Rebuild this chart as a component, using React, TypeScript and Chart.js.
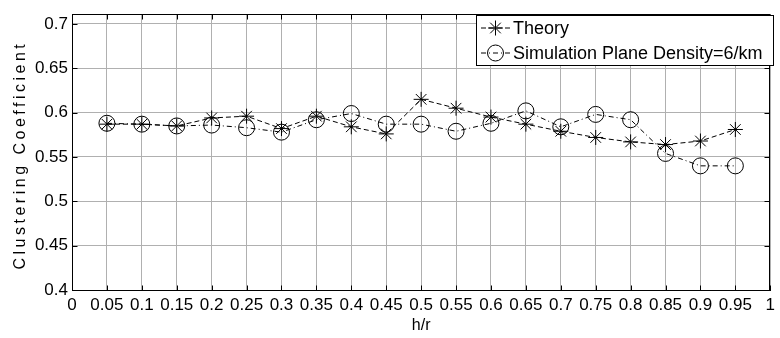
import React, { useEffect, useRef } from 'react';
import { Chart, registerables } from 'chart.js';

Chart.register(...registerables);

// ---- data ----
const hr = [0.05, 0.1, 0.15, 0.2, 0.25, 0.3, 0.35, 0.4, 0.45, 0.5, 0.55, 0.6, 0.65, 0.7, 0.75, 0.8, 0.85, 0.9, 0.95];
const theory = [0.587, 0.587, 0.585, 0.594, 0.596, 0.582, 0.596, 0.584, 0.576, 0.615, 0.605, 0.595, 0.587, 0.579, 0.572, 0.567, 0.564, 0.568, 0.581];
const simulation = [0.588, 0.587, 0.585, 0.586, 0.583, 0.578, 0.592, 0.599, 0.587, 0.587, 0.579, 0.588, 0.602, 0.584, 0.598, 0.592, 0.554, 0.54, 0.54];
const seriesNames = ['Theory', 'Simulation Plane Density=6/km'];
const xTicks = [0, 0.05, 0.1, 0.15, 0.2, 0.25, 0.3, 0.35, 0.4, 0.45, 0.5, 0.55, 0.6, 0.65, 0.7, 0.75, 0.8, 0.85, 0.9, 0.95, 1];
const xTickLabels = ['0', '0.05', '0.1', '0.15', '0.2', '0.25', '0.3', '0.35', '0.4', '0.45', '0.5', '0.55', '0.6', '0.65', '0.7', '0.75', '0.8', '0.85', '0.9', '0.95', '1'];
const yTicks = [0.4, 0.45, 0.5, 0.55, 0.6, 0.65, 0.7];
const yTickLabels = ['0.4', '0.45', '0.5', '0.55', '0.6', '0.65', '0.7'];
const xTitle = 'h/r';
const yTitle = 'Clustering Coefficient';
const yMin = 0.4;
const yMax = 0.711;

const FONT = "'Liberation Sans', Arial, sans-serif";
const theoryDash = [5, 3];
const simDash = [5, 3, 1, 3];

function drawStar(ctx: CanvasRenderingContext2D, x: number, y: number, r: number) {
  const d = r * Math.SQRT1_2;
  ctx.beginPath();
  ctx.moveTo(x - r, y); ctx.lineTo(x + r, y);
  ctx.moveTo(x, y - r); ctx.lineTo(x, y + r);
  ctx.moveTo(x - d, y - d); ctx.lineTo(x + d, y + d);
  ctx.moveTo(x - d, y + d); ctx.lineTo(x + d, y - d);
  ctx.stroke();
}
function drawCircle(ctx: CanvasRenderingContext2D, x: number, y: number, r: number) {
  ctx.beginPath();
  ctx.arc(x, y, r, 0, Math.PI * 2);
  ctx.stroke();
}

const framePlugin = {
  id: 'frame',
  afterDraw(chart: any) {
    const { ctx, chartArea } = chart;
    const { left, right, top, bottom } = chartArea;
    const x = chart.scales.x;
    const y = chart.scales.y;
    ctx.save();
    ctx.strokeStyle = '#000';
    ctx.lineWidth = 1;
    ctx.setLineDash([]);
    ctx.beginPath();
    const L = Math.round(left) + 0.5, R = Math.round(right) - 0.5, T = Math.round(top) + 0.5, B = Math.round(bottom) + 0.5;
    xTicks.forEach((v) => {
      const px = Math.round(x.getPixelForValue(v)) + 0.5;
      ctx.moveTo(px, B); ctx.lineTo(px, B - 5);
      ctx.moveTo(px, T); ctx.lineTo(px, T + 5);
    });
    yTicks.forEach((v) => {
      const py = Math.round(y.getPixelForValue(v)) + 0.5;
      ctx.moveTo(L, py); ctx.lineTo(L + 5, py);
      ctx.moveTo(R, py); ctx.lineTo(R - 5, py);
    });
    ctx.stroke();
    ctx.strokeRect(L, T, R - L, B - T);

    // y axis title (spaced lettering as in the reference)
    ctx.save();
    ctx.translate(21, (top + bottom) / 2 + 3);
    ctx.rotate(-Math.PI / 2);
    ctx.fillStyle = '#000';
    ctx.font = `16px ${FONT}`;
    (ctx as any).letterSpacing = '3.5px';
    ctx.textAlign = 'center';
    ctx.textBaseline = 'middle';
    ctx.fillText(yTitle, 0, 0);
    ctx.restore();

    // legend
    const bx = 476.5, by = 15.5, bw = 297, bh = 50;
    ctx.fillStyle = '#fff';
    ctx.fillRect(bx, by, bw, bh);
    ctx.strokeRect(bx, by, bw, bh);
    const rows = [
      { yy: 28, dash: theoryDash, marker: 'star' },
      { yy: 53, dash: simDash, marker: 'circle' },
    ];
    rows.forEach((row, i) => {
      ctx.setLineDash(row.dash);
      ctx.beginPath();
      ctx.moveTo(481, row.yy);
      ctx.lineTo(510, row.yy);
      ctx.stroke();
      ctx.setLineDash([]);
      if (row.marker === 'star') drawStar(ctx, 495.5, row.yy, 7.5);
      else drawCircle(ctx, 495.5, row.yy, 8);
      ctx.fillStyle = '#000';
      ctx.font = `18px ${FONT}`;
      ctx.textBaseline = 'middle';
      ctx.textAlign = 'left';
      ctx.fillText(seriesNames[i], 513, row.yy + 1);
    });
    ctx.restore();
  },
};

export default function App() {
  const ref = useRef<HTMLCanvasElement | null>(null);
  useEffect(() => {
    if (!ref.current) return;
    const chart = new Chart(ref.current, {
      type: 'line',
      data: {
        datasets: [
          {
            label: seriesNames[0],
            data: hr.map((v, i) => ({ x: v, y: theory[i] })),
            borderColor: '#000',
            borderWidth: 1,
            borderDash: theoryDash,
            pointStyle: 'star',
            pointRadius: 7.5,
            pointBorderColor: '#000',
            pointBorderWidth: 1,
            pointBackgroundColor: 'rgba(0,0,0,0)',
            fill: false,
            tension: 0,
          },
          {
            label: seriesNames[1],
            data: hr.map((v, i) => ({ x: v, y: simulation[i] })),
            borderColor: '#000',
            borderWidth: 1,
            borderDash: simDash,
            pointStyle: 'circle',
            pointRadius: 8,
            pointBorderColor: '#000',
            pointBorderWidth: 1,
            pointBackgroundColor: 'rgba(0,0,0,0)',
            fill: false,
            tension: 0,
          },
        ],
      },
      options: {
        responsive: false,
        animation: false,
        events: [],
        layout: { padding: { top: 9, right: 3, left: 0, bottom: 0 } },
        plugins: { legend: { display: false }, tooltip: { enabled: false } },
        scales: {
          x: {
            type: 'linear',
            min: 0,
            max: 1,
            afterBuildTicks: (s: any) => { s.ticks = xTicks.map((v) => ({ value: v })); },
            afterFit: (s: any) => { s.height = 48; },
            ticks: {
              autoSkip: false,
              maxRotation: 0,
              minRotation: 0,
              padding: 5,
              color: '#000',
              font: { family: FONT, size: 17 },
              callback: (_v: any, i: number) => xTickLabels[i],
            },
            grid: { color: '#b0b0b0', lineWidth: 1, drawTicks: false },
            border: { color: '#000', width: 1 },
            title: { display: true, text: xTitle, color: '#000', font: { family: FONT, size: 16 }, padding: { top: 0, bottom: 3 } },
          },
          y: {
            type: 'linear',
            min: yMin,
            max: yMax,
            afterBuildTicks: (s: any) => { s.ticks = yTicks.map((v) => ({ value: v })); },
            afterFit: (s: any) => { s.width = 72; },
            ticks: {
              autoSkip: false,
              padding: 4,
              color: '#000',
              font: { family: FONT, size: 17 },
              callback: (_v: any, i: number) => yTickLabels[i],
            },
            grid: { color: '#b0b0b0', lineWidth: 1, drawTicks: false },
            border: { color: '#000', width: 1 },
            title: { display: false, text: yTitle },
          },
        },
      },
      plugins: [framePlugin],
    });
    return () => chart.destroy();
  }, []);
  return (
    <div style={{ position: 'fixed', left: 0, top: 0, width: 780, height: 338, background: '#fff' }}>
      <canvas ref={ref} width={780} height={338} style={{ display: 'block' }} />
    </div>
  );
}
